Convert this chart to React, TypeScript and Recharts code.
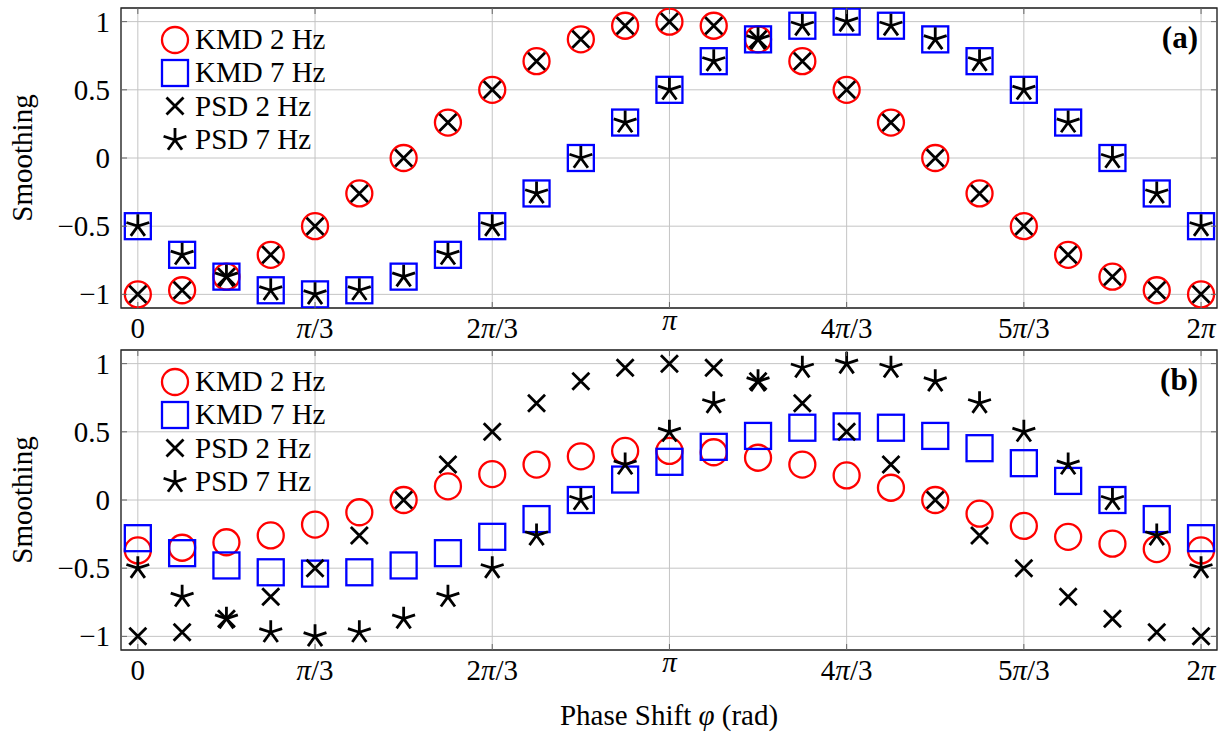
import React from "react";
import {
  ScatterChart,
  Scatter,
  XAxis,
  YAxis,
  CartesianGrid,
  Legend,
  ReferenceArea,
  Label,
} from "recharts";

const FONT = '"Liberation Serif", "DejaVu Serif", serif';
const FS = 29;
const RED = "#ff0000";
const BLUE = "#0000ff";
const TICK_COLOR = "#666";

// plot box edges inside each panel's svg
const PLOT_LEFT = 121;
const PLOT_RIGHT = 1217;
const PLOT_H = 300;

// phase steps of pi/12 from 0 to 2pi
const steps = [0, 1, 2, 3, 4, 5, 6, 7, 8, 9, 10, 11, 12, 13, 14, 15, 16, 17, 18, 19, 20, 21, 22, 23, 24];
const xTicks = [0, 4, 8, 12, 16, 20, 24];
const xTickLabels = ["0", "π/3", "2π/3", "π", "4π/3", "5π/3", "2π"];
const yTicks = [-1, -0.5, 0, 0.5, 1];
const yTickLabels = ["−1", "−0.5", "0", "0.5", "1"];

const X_DOMAIN: [number, number] = [-0.38, 24.36];
const Y_DOMAIN: [number, number] = [-1.1, 1.1];

const psd2Hz = [-1, -0.97, -0.87, -0.71, -0.5, -0.26, 0, 0.26, 0.5, 0.71, 0.87, 0.97, 1, 0.97, 0.87, 0.71, 0.5, 0.26, 0, -0.26, -0.5, -0.71, -0.87, -0.97, -1];
const psd7Hz = [-0.5, -0.71, -0.87, -0.97, -1, -0.97, -0.87, -0.71, -0.5, -0.26, 0, 0.26, 0.5, 0.71, 0.87, 0.97, 1, 0.97, 0.87, 0.71, 0.5, 0.26, 0, -0.26, -0.5];

// (a)
const kmd2HzA = [-1, -0.97, -0.87, -0.71, -0.5, -0.26, 0, 0.26, 0.5, 0.71, 0.87, 0.97, 1, 0.97, 0.87, 0.71, 0.5, 0.26, 0, -0.26, -0.5, -0.71, -0.87, -0.97, -1];
const kmd7HzA = [-0.5, -0.71, -0.87, -0.97, -1, -0.97, -0.87, -0.71, -0.5, -0.26, 0, 0.26, 0.5, 0.71, 0.87, 0.97, 1, 0.97, 0.87, 0.71, 0.5, 0.26, 0, -0.26, -0.5];

// (b)
const kmd2HzB = [-0.37, -0.35, -0.31, -0.26, -0.18, -0.09, 0, 0.1, 0.19, 0.26, 0.32, 0.36, 0.36, 0.35, 0.31, 0.26, 0.18, 0.09, 0, -0.1, -0.19, -0.27, -0.32, -0.36, -0.37];
const kmd7HzB = [-0.28, -0.39, -0.48, -0.53, -0.54, -0.53, -0.48, -0.39, -0.27, -0.14, 0, 0.15, 0.28, 0.39, 0.47, 0.53, 0.54, 0.53, 0.47, 0.38, 0.27, 0.14, 0, -0.14, -0.28];

const toPoints = (values: number[]) => steps.map((s, i) => ({ x: s, y: values[i] }));

function CircleMark({ cx, cy }: any) {
  return <circle cx={cx} cy={cy} r={13} fill="none" stroke={RED} strokeWidth={2.3} />;
}

function SquareMark({ cx, cy }: any) {
  return <rect x={cx - 13} y={cy - 13} width={26} height={26} fill="none" stroke={BLUE} strokeWidth={2.3} />;
}

function CrossMark({ cx, cy }: any) {
  const h = 8.5;
  return (
    <path
      d={`M${cx - h},${cy - h}L${cx + h},${cy + h}M${cx - h},${cy + h}L${cx + h},${cy - h}`}
      stroke="#000"
      strokeWidth={2.8}
      fill="none"
    />
  );
}

function StarMark({ cx, cy }: any) {
  const len = 12;
  const d = [90, 162, 234, 306, 18]
    .map((deg) => {
      const a = (deg * Math.PI) / 180;
      return `M${cx},${cy}L${cx + len * Math.cos(a)},${cy - len * Math.sin(a)}`;
    })
    .join("");
  return <path d={d} stroke="#000" strokeWidth={2.8} fill="none" strokeLinecap="butt" />;
}

const seriesMeta = [
  { name: "KMD 2 Hz", Mark: CircleMark },
  { name: "KMD 7 Hz", Mark: SquareMark },
  { name: "PSD 2 Hz", Mark: CrossMark },
  { name: "PSD 7 Hz", Mark: StarMark },
];

function PanelLegend() {
  return (
    <div style={{ fontFamily: FONT, fontSize: FS, color: "#000" }}>
      {seriesMeta.map((s) => (
        <div key={s.name} style={{ display: "flex", alignItems: "center", height: 33.3 }}>
          <svg width={32} height={32} style={{ display: "block" }}>
            <s.Mark cx={16} cy={16} />
          </svg>
          <span style={{ marginLeft: 4, lineHeight: 1, whiteSpace: "nowrap" }}>{s.name}</span>
        </div>
      ))}
    </div>
  );
}

// tick label like "4π/3" with an italic pi, plus short inner ticks on the bottom and top edges
function PhaseTick({ x, y, payload }: any) {
  const label = xTickLabels[xTicks.indexOf(payload.value)] ?? "";
  const piOnly = label === "π";
  const parts = label.split("π");
  return (
    <g>
      <line x1={x} x2={x} y1={y} y2={y - 6} stroke={TICK_COLOR} strokeWidth={1} />
      <line x1={x} x2={x} y1={y - PLOT_H} y2={y - PLOT_H + 6} stroke={TICK_COLOR} strokeWidth={1} />
      <text x={x} y={y + (piOnly ? 22 : 30)} textAnchor="middle" fontFamily={FONT} fontSize={FS} fill="#000">
        {parts.length === 1 ? (
          label
        ) : (
          <>
            {parts[0]}
            <tspan fontStyle="italic">π</tspan>
            {parts[1]}
          </>
        )}
      </text>
    </g>
  );
}

function ValueTick({ y, payload }: any) {
  const label = yTickLabels[yTicks.indexOf(payload.value)] ?? "";
  return (
    <g>
      <line x1={PLOT_LEFT} x2={PLOT_LEFT + 6} y1={y} y2={y} stroke={TICK_COLOR} strokeWidth={1} />
      <line x1={PLOT_RIGHT - 6} x2={PLOT_RIGHT} y1={y} y2={y} stroke={TICK_COLOR} strokeWidth={1} />
      <text x={110} y={y + 10} textAnchor="end" fontFamily={FONT} fontSize={FS} fill="#000">
        {label}
      </text>
    </g>
  );
}

function Panel({ tag, kmd2, kmd7, height, bottom, withXLabel }: any) {
  return (
    <ScatterChart
      width={1231}
      height={height}
      margin={{ top: 8, right: 1231 - PLOT_RIGHT, bottom, left: 0 }}
      style={{ overflow: "visible" }}
    >
      <CartesianGrid stroke="#c4c4c4" strokeWidth={1} />
      <XAxis
        type="number"
        dataKey="x"
        domain={X_DOMAIN}
        ticks={xTicks}
        interval={0}
        allowDataOverflow
        axisLine={false}
        tickLine={false}
        tickSize={0}
        tickMargin={0}
        height={34}
        tick={(p: any) => <PhaseTick {...p} />}
      >
        {withXLabel && (
          <Label
            content={() => (
              <text x={669} y={383} textAnchor="middle" fontFamily={FONT} fontSize={FS} fill="#000">
                Phase Shift <tspan fontStyle="italic">φ</tspan> (rad)
              </text>
            )}
          />
        )}
      </XAxis>
      <YAxis
        type="number"
        dataKey="y"
        domain={Y_DOMAIN}
        ticks={yTicks}
        interval={0}
        allowDataOverflow
        axisLine={false}
        tickLine={false}
        width={PLOT_LEFT}
        tick={(p: any) => <ValueTick {...p} />}
      >
        <Label
          content={() => (
            <text
              x={22}
              y={158}
              transform="rotate(-90 22 158)"
              textAnchor="middle"
              dominantBaseline="central"
              fontFamily={FONT}
              fontSize={FS}
              fill="#000"
            >
              Smoothing
            </text>
          )}
        />
      </YAxis>
      <Scatter name="KMD 2 Hz" data={toPoints(kmd2)} shape={CircleMark} isAnimationActive={false} />
      <Scatter name="KMD 7 Hz" data={toPoints(kmd7)} shape={SquareMark} isAnimationActive={false} />
      <Scatter name="PSD 2 Hz" data={toPoints(psd2Hz)} shape={CrossMark} isAnimationActive={false} />
      <Scatter name="PSD 7 Hz" data={toPoints(psd7Hz)} shape={StarMark} isAnimationActive={false} />
      <ReferenceArea
        x1={X_DOMAIN[0]}
        x2={X_DOMAIN[1]}
        y1={Y_DOMAIN[0]}
        y2={Y_DOMAIN[1]}
        fill="none"
        fillOpacity={0}
        stroke="#222"
        strokeWidth={1.3}
        ifOverflow="visible"
      />
      <Legend
        layout="vertical"
        align="center"
        verticalAlign="middle"
        content={() => <PanelLegend />}
        wrapperStyle={{ left: 159, top: 23, width: "auto", height: "auto" }}
      />
      <text x={1198} y={48} textAnchor="end" fontFamily={FONT} fontSize={31} fontWeight="bold" fill="#000">
        {tag}
      </text>
    </ScatterChart>
  );
}

export default function App() {
  return (
    <div style={{ position: "absolute", left: 0, top: 0, width: 1231, height: 736, background: "#fff" }}>
      <div style={{ position: "absolute", left: 0, top: 0 }}>
        <Panel tag="(a)" kmd2={kmd2HzA} kmd7={kmd7HzA} height={352} bottom={10} withXLabel={false} />
      </div>
      <div style={{ position: "absolute", left: 0, top: 342 }}>
        <Panel tag="(b)" kmd2={kmd2HzB} kmd7={kmd7HzB} height={394} bottom={52} withXLabel />
      </div>
    </div>
  );
}
